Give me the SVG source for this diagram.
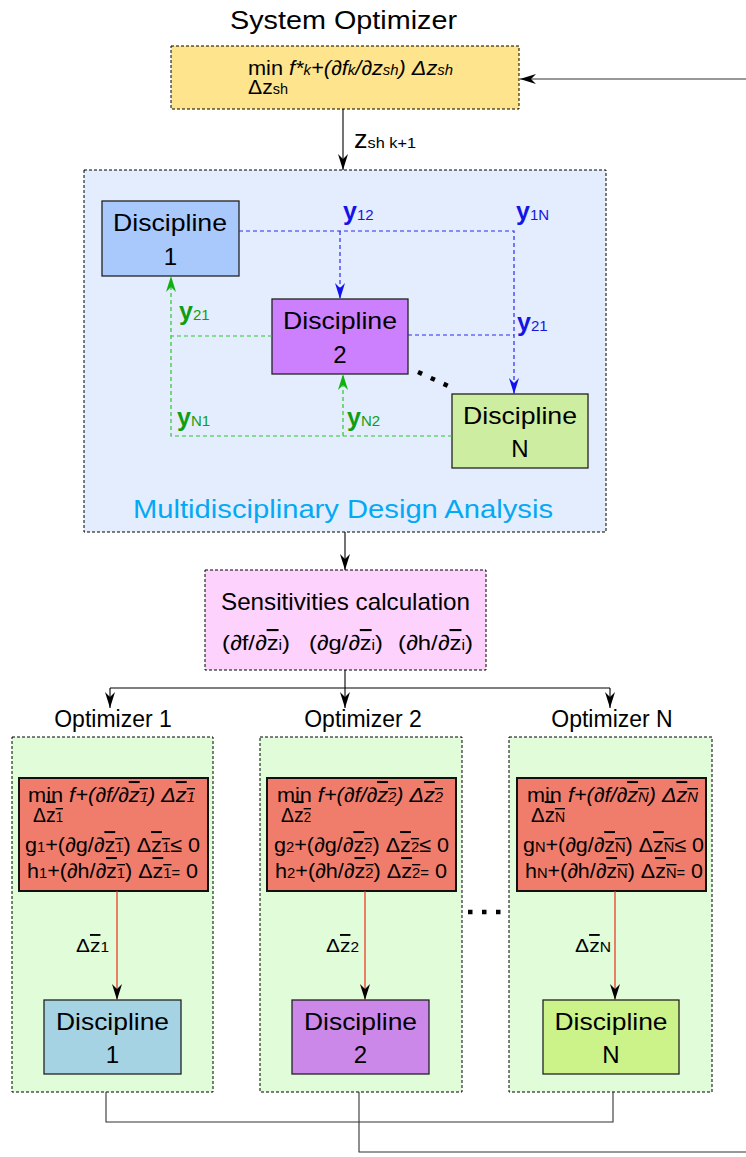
<svg xmlns="http://www.w3.org/2000/svg" width="746" height="1157" viewBox="0 0 746 1157">
<defs>
<style>
text{font-family:'Liberation Sans',Arial,Helvetica,sans-serif;fill:#000}
.dashbox{stroke:#000;stroke-width:1;stroke-dasharray:3 2}
.disc{stroke:#222;stroke-width:1.3}
.red{fill:#f07d6b;stroke:#111;stroke-width:2}
.green{fill:#e0fcd9}
.ln{fill:none;stroke:#000;stroke-width:1.1}
.gl{fill:none;stroke:#333;stroke-width:1.1}
.bl{fill:none;stroke:#2a2af0;stroke-width:1.2;stroke-dasharray:4 3}
.gr{fill:none;stroke:#2ec52e;stroke-width:1.2;stroke-dasharray:4 3}
.rl{fill:none;stroke:#ee2a1a;stroke-width:1.2}
.s{font-size:14px}
.it{font-style:italic}
.ov{text-decoration:overline}
.yb{font-size:25px;font-weight:bold}
.ys{font-size:15px}
.dt{font-size:24px}
.rb{font-size:20.5px}
</style>
<marker id="ak" viewBox="0 0 16 10" refX="16" refY="5" markerWidth="16" markerHeight="10" markerUnits="userSpaceOnUse" orient="auto"><path d="M0,0 L16,5 L0,10 L5,5 z" fill="#000"/></marker>
<marker id="ab" viewBox="0 0 16 10" refX="16" refY="5" markerWidth="16" markerHeight="10" markerUnits="userSpaceOnUse" orient="auto"><path d="M0,0 L16,5 L0,10 L5,5 z" fill="#1010f0"/></marker>
<marker id="ag" viewBox="0 0 16 10" refX="16" refY="5" markerWidth="16" markerHeight="10" markerUnits="userSpaceOnUse" orient="auto"><path d="M0,0 L16,5 L0,10 L5,5 z" fill="#10b010"/></marker>
</defs>
<rect width="746" height="1157" fill="#fff"/>

<g id="system-optimizer">
<text x="230" y="29" font-size="25" textLength="227" lengthAdjust="spacingAndGlyphs">System Optimizer</text>
<rect x="171" y="46" width="348" height="63" fill="#fee48c" class="dashbox"/>
<text x="248" y="75" font-size="20.5" textLength="205" lengthAdjust="spacingAndGlyphs">min <tspan class="it">f*<tspan class="s">k</tspan>+(∂f<tspan class="s">k</tspan>/∂z<tspan class="s">sh</tspan>) Δz<tspan class="s">sh</tspan></tspan></text>
<text x="248" y="94" font-size="20.5" textLength="40" lengthAdjust="spacingAndGlyphs">Δz<tspan class="s">sh</tspan></text>
</g>

<g id="mda">
<rect x="84" y="170" width="522" height="362" fill="#e3edfd" class="dashbox"/>
<text x="133" y="518" font-size="25" style="fill:#03a9f4" textLength="420" lengthAdjust="spacingAndGlyphs">Multidisciplinary Design Analysis</text>
</g>

<g id="discipline-1">
<rect x="102" y="201" width="137" height="75" fill="#a9c9fd" class="disc"/>
<text x="113" y="231" class="dt" textLength="114" lengthAdjust="spacingAndGlyphs">Discipline</text>
<text x="170.5" y="265" class="dt" text-anchor="middle">1</text>
</g>
<g id="discipline-2">
<rect x="272" y="299" width="136" height="75" fill="#cc80fd" class="disc"/>
<text x="283" y="329" class="dt" textLength="114" lengthAdjust="spacingAndGlyphs">Discipline</text>
<text x="340" y="363" class="dt" text-anchor="middle">2</text>
</g>
<g id="discipline-n">
<rect x="452" y="394" width="136" height="74" fill="#cdeda0" class="disc"/>
<text x="463" y="424" class="dt" textLength="114" lengthAdjust="spacingAndGlyphs">Discipline</text>
<text x="520" y="457" class="dt" text-anchor="middle">N</text>
</g>

<g id="sensitivities">
<rect x="205" y="570" width="281" height="100" fill="#fdd3fd" class="dashbox"/>
<text x="221" y="610" font-size="24" textLength="249" lengthAdjust="spacingAndGlyphs">Sensitivities calculation</text>
<text x="222" y="650" font-size="21" textLength="68" lengthAdjust="spacingAndGlyphs">(∂f/∂<tspan class="ov">z</tspan><tspan font-size="14">i</tspan>)</text>
<text x="309" y="650" font-size="21" textLength="74" lengthAdjust="spacingAndGlyphs">(∂g/∂<tspan class="ov">z</tspan><tspan font-size="14">i</tspan>)</text>
<text x="398" y="650" font-size="21" textLength="75" lengthAdjust="spacingAndGlyphs">(∂h/∂<tspan class="ov">z</tspan><tspan font-size="14">i</tspan>)</text>
</g>

<g id="optimizer-1">
<text x="113" y="727" font-size="23" text-anchor="middle">Optimizer 1</text>
<rect x="12" y="737" width="201" height="355" class="dashbox green"/>
<rect x="19" y="778" width="189" height="113" class="red"/>
<text x="28" y="802" class="rb" textLength="167" lengthAdjust="spacingAndGlyphs">min <tspan class="it">f+(∂f/∂<tspan class="ov">z<tspan class="s">1</tspan></tspan>) Δ<tspan class="ov">z<tspan class="s">1</tspan></tspan></tspan></text>
<text x="33" y="822" class="rb" textLength="30" lengthAdjust="spacingAndGlyphs">Δ<tspan class="ov">z<tspan class="s">1</tspan></tspan></text>
<text x="25" y="852" class="rb" textLength="175" lengthAdjust="spacingAndGlyphs">g<tspan class="s">1</tspan>+(∂g/∂<tspan class="ov">z<tspan class="s">1</tspan></tspan>) Δ<tspan class="ov">z<tspan class="s">1</tspan></tspan>≤ 0</text>
<text x="27" y="878" class="rb" textLength="171" lengthAdjust="spacingAndGlyphs">h<tspan class="s">1</tspan>+(∂h/∂<tspan class="ov">z<tspan class="s">1</tspan></tspan>) Δ<tspan class="ov">z<tspan class="s">1</tspan></tspan><tspan class="s">=</tspan> 0</text>
<text x="76" y="952" font-size="19" textLength="33" lengthAdjust="spacingAndGlyphs">Δ<tspan class="ov">z</tspan><tspan class="s">1</tspan></text>
</g>
<g id="optimizer-2">
<text x="363" y="727" font-size="23" text-anchor="middle">Optimizer 2</text>
<rect x="260" y="737" width="202" height="355" class="dashbox green"/>
<rect x="267" y="778" width="189" height="113" class="red"/>
<text x="277" y="802" class="rb" textLength="166" lengthAdjust="spacingAndGlyphs">min <tspan class="it">f+(∂f/∂<tspan class="ov">z<tspan class="s">2</tspan></tspan>) Δ<tspan class="ov">z<tspan class="s">2</tspan></tspan></tspan></text>
<text x="281" y="822" class="rb" textLength="30" lengthAdjust="spacingAndGlyphs">Δ<tspan class="ov">z<tspan class="s">2</tspan></tspan></text>
<text x="274" y="852" class="rb" textLength="175" lengthAdjust="spacingAndGlyphs">g<tspan class="s">2</tspan>+(∂g/∂<tspan class="ov">z<tspan class="s">2</tspan></tspan>) Δ<tspan class="ov">z<tspan class="s">2</tspan></tspan>≤ 0</text>
<text x="275" y="878" class="rb" textLength="172" lengthAdjust="spacingAndGlyphs">h<tspan class="s">2</tspan>+(∂h/∂<tspan class="ov">z<tspan class="s">2</tspan></tspan>) Δ<tspan class="ov">z<tspan class="s">2</tspan></tspan><tspan class="s">=</tspan> 0</text>
<text x="326" y="952" font-size="19" textLength="33" lengthAdjust="spacingAndGlyphs">Δ<tspan class="ov">z</tspan><tspan class="s">2</tspan></text>
</g>
<g id="optimizer-n">
<text x="612" y="727" font-size="23" text-anchor="middle">Optimizer N</text>
<rect x="509" y="737" width="203" height="355" class="dashbox green"/>
<rect x="517" y="778" width="189" height="113" class="red"/>
<text x="527" y="802" class="rb" textLength="171" lengthAdjust="spacingAndGlyphs">min <tspan class="it">f+(∂f/∂<tspan class="ov">z<tspan class="s">N</tspan></tspan>) Δ<tspan class="ov">z<tspan class="s">N</tspan></tspan></tspan></text>
<text x="531" y="822" class="rb" textLength="34" lengthAdjust="spacingAndGlyphs">Δ<tspan class="ov">z<tspan class="s">N</tspan></tspan></text>
<text x="523" y="852" class="rb" textLength="181" lengthAdjust="spacingAndGlyphs">g<tspan class="s">N</tspan>+(∂g/∂<tspan class="ov">z<tspan class="s">N</tspan></tspan>) Δ<tspan class="ov">z<tspan class="s">N</tspan></tspan>≤ 0</text>
<text x="525" y="878" class="rb" textLength="178" lengthAdjust="spacingAndGlyphs">h<tspan class="s">N</tspan>+(∂h/∂<tspan class="ov">z<tspan class="s">N</tspan></tspan>) Δ<tspan class="ov">z<tspan class="s">N</tspan></tspan><tspan class="s">=</tspan> 0</text>
<text x="575" y="952" font-size="19" textLength="36" lengthAdjust="spacingAndGlyphs">Δ<tspan class="ov">z</tspan><tspan class="s">N</tspan></text>
</g>

<g id="bottom-discipline-1">
<rect x="44" y="1000" width="137" height="74" fill="#a6d3e3" class="disc"/>
<text x="56" y="1030" class="dt" textLength="113" lengthAdjust="spacingAndGlyphs">Discipline</text>
<text x="112.5" y="1063" class="dt" text-anchor="middle">1</text>
</g>
<g id="bottom-discipline-2">
<rect x="292" y="1000" width="137" height="74" fill="#cc88e8" class="disc"/>
<text x="304" y="1030" class="dt" textLength="113" lengthAdjust="spacingAndGlyphs">Discipline</text>
<text x="360.5" y="1063" class="dt" text-anchor="middle">2</text>
</g>
<g id="bottom-discipline-n">
<rect x="543" y="1000" width="136" height="74" fill="#ccf38a" class="disc"/>
<text x="554.5" y="1030" class="dt" textLength="113" lengthAdjust="spacingAndGlyphs">Discipline</text>
<text x="611" y="1063" class="dt" text-anchor="middle">N</text>
</g>

<g id="connectors">
<path class="ln" d="M343,109 V170" marker-end="url(#ak)"/>
<text x="354" y="148" font-size="25" textLength="62" lengthAdjust="spacingAndGlyphs">z<tspan font-size="15">sh k+1</tspan></text>
<path class="ln" d="M345,532 V570" marker-end="url(#ak)"/>
<path class="ln" d="M345,670 V708" marker-end="url(#ak)"/>
<path class="ln" d="M110,688 H610"/>
<path class="ln" d="M110,688 V708" marker-end="url(#ak)"/>
<path class="ln" d="M610,688 V708" marker-end="url(#ak)"/>
<path class="bl" d="M239,231 H514 V394" marker-end="url(#ab)"/>
<path class="bl" d="M340,231 V299" marker-end="url(#ab)"/>
<path class="bl" d="M408,335 H514"/>
<path class="gr" d="M452,436 H171 V276" marker-end="url(#ag)"/>
<path class="gr" d="M343,436 V374" marker-end="url(#ag)"/>
<path class="gr" d="M272,336 H171"/>
<text x="343" y="220" style="fill:#1414e6"><tspan class="yb">y</tspan><tspan class="ys">12</tspan></text>
<text x="516" y="220" style="fill:#1414e6"><tspan class="yb">y</tspan><tspan class="ys">1N</tspan></text>
<text x="517" y="331" style="fill:#1414e6"><tspan class="yb">y</tspan><tspan class="ys">21</tspan></text>
<text x="179" y="320" style="fill:#119d11"><tspan class="yb">y</tspan><tspan class="ys">21</tspan></text>
<text x="177" y="426" style="fill:#119d11"><tspan class="yb">y</tspan><tspan class="ys">N1</tspan></text>
<text x="347" y="426" style="fill:#119d11"><tspan class="yb">y</tspan><tspan class="ys">N2</tspan></text>
<path d="M418,372 L450,386.8" stroke="#000" stroke-width="4.5" stroke-dasharray="4.5 9.6" fill="none"/>
<path d="M468,912 H502" stroke="#000" stroke-width="4.5" stroke-dasharray="4.5 9.5" fill="none"/>
<path class="rl" d="M117,891 V1000" marker-end="url(#ak)"/>
<path class="rl" d="M365,891 V1000" marker-end="url(#ak)"/>
<path class="rl" d="M615,891 V1000" marker-end="url(#ak)"/>
<path class="gl" d="M106,1092 V1122 H613 V1092"/>
<path class="gl" d="M359,1092 V1152 H752 V79 H520" marker-end="url(#ak)"/>
</g>
</svg>
